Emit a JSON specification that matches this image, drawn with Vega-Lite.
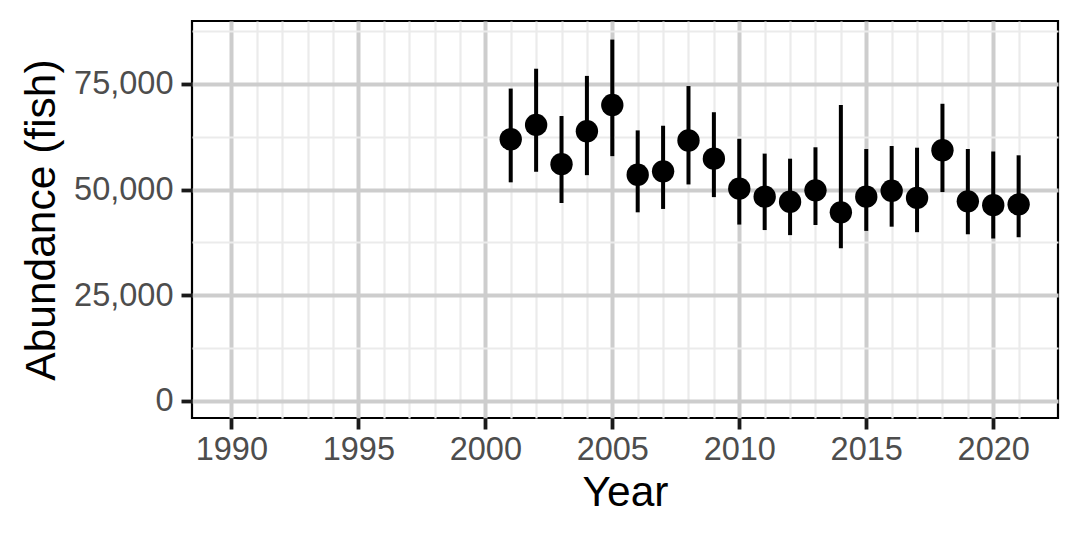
{
  "$schema": "https://vega.github.io/schema/vega-lite/v6.json",
  "width": 866,
  "height": 397,
  "autosize": {"type": "none"},
  "padding": {"left": 192, "top": 21, "right": 22, "bottom": 122},
  "background": "white",
  "config": {
    "view": {"stroke": "#000000", "strokeWidth": 2.2},
    "font": "Liberation Sans",
    "axis": {
      "domain": false,
      "labelFont": "Liberation Sans",
      "titleFont": "Liberation Sans",
      "labelColor": "#4D4D4D",
      "labelFontSize": 32.5,
      "titleFontSize": 42.5,
      "titleFontWeight": "normal",
      "titleColor": "#000000",
      "tickColor": "#1A1A1A",
      "tickWidth": 3.8
    }
  },
  "data": {
    "values": [
      {"year": 2001, "est": 61900, "lo": 51700, "hi": 73900},
      {"year": 2002, "est": 65300, "lo": 54200, "hi": 78600},
      {"year": 2003, "est": 56000, "lo": 46800, "hi": 67400},
      {"year": 2004, "est": 63800, "lo": 53400, "hi": 76900},
      {"year": 2005, "est": 70000, "lo": 57900, "hi": 85500},
      {"year": 2006, "est": 53500, "lo": 44600, "hi": 64000},
      {"year": 2007, "est": 54300, "lo": 45400, "hi": 65100},
      {"year": 2008, "est": 61600, "lo": 51200, "hi": 74500},
      {"year": 2009, "est": 57300, "lo": 48200, "hi": 68300},
      {"year": 2010, "est": 50200, "lo": 41700, "hi": 62000},
      {"year": 2011, "est": 48300, "lo": 40400, "hi": 58500},
      {"year": 2012, "est": 47100, "lo": 39200, "hi": 57300},
      {"year": 2013, "est": 49800, "lo": 41600, "hi": 60000},
      {"year": 2014, "est": 44600, "lo": 36100, "hi": 70000},
      {"year": 2015, "est": 48300, "lo": 40200, "hi": 59600},
      {"year": 2016, "est": 49700, "lo": 41200, "hi": 60300},
      {"year": 2017, "est": 48000, "lo": 39900, "hi": 59900},
      {"year": 2018, "est": 59300, "lo": 49400, "hi": 70300},
      {"year": 2019, "est": 47200, "lo": 39400, "hi": 59600},
      {"year": 2020, "est": 46300, "lo": 38400, "hi": 59000},
      {"year": 2021, "est": 46500, "lo": 38700, "hi": 58100}
    ]
  },
  "encoding": {
    "x": {
      "field": "year",
      "type": "quantitative",
      "title": "Year",
      "scale": {"domain": [1988.45, 2022.55], "nice": false, "zero": false},
      "axis": {
        "values": [1990, 1991, 1992, 1993, 1994, 1995, 1996, 1997, 1998, 1999, 2000, 2001, 2002, 2003, 2004, 2005, 2006, 2007, 2008, 2009, 2010, 2011, 2012, 2013, 2014, 2015, 2016, 2017, 2018, 2019, 2020, 2021],
        "labelExpr": "datum.value % 5 === 0 ? '' + datum.value : ''",
        "gridColor": {"condition": {"test": "datum.value % 5 === 0", "value": "#CDCDCD"}, "value": "#EBEBEB"},
        "gridWidth": {"condition": {"test": "datum.value % 5 === 0", "value": 4}, "value": 2.2},
        "tickSize": 11,
        "tickOpacity": {"condition": {"test": "datum.value % 5 === 0", "value": 1}, "value": 0},
        "labelPadding": 4,
        "titlePadding": 6,
        "labelFlush": false,
        "labelOverlap": false
      }
    }
  },
  "layer": [
    {
      "mark": {"type": "rule", "color": "black", "strokeWidth": 4},
      "encoding": {
        "y": {
          "field": "lo",
          "type": "quantitative",
          "title": "Abundance (fish)",
          "scale": {"domain": [-4100, 89900], "nice": false, "zero": false},
          "axis": {
            "values": [0, 12500, 25000, 37500, 50000, 62500, 75000, 87500],
            "labelExpr": "datum.value % 25000 === 0 ? format(datum.value, ',') : ''",
            "gridColor": {"condition": {"test": "datum.value % 25000 === 0", "value": "#CDCDCD"}, "value": "#EBEBEB"},
            "gridWidth": {"condition": {"test": "datum.value % 25000 === 0", "value": 4}, "value": 2.2},
            "tickSize": 11,
            "tickOpacity": {"condition": {"test": "datum.value % 25000 === 0", "value": 1}, "value": 0},
            "labelPadding": 8,
            "titlePadding": 10,
            "labelOverlap": false
          }
        },
        "y2": {"field": "hi"}
      }
    },
    {
      "mark": {"type": "circle", "color": "black", "opacity": 1, "size": 500},
      "encoding": {
        "y": {"field": "est", "type": "quantitative"}
      }
    }
  ]
}
